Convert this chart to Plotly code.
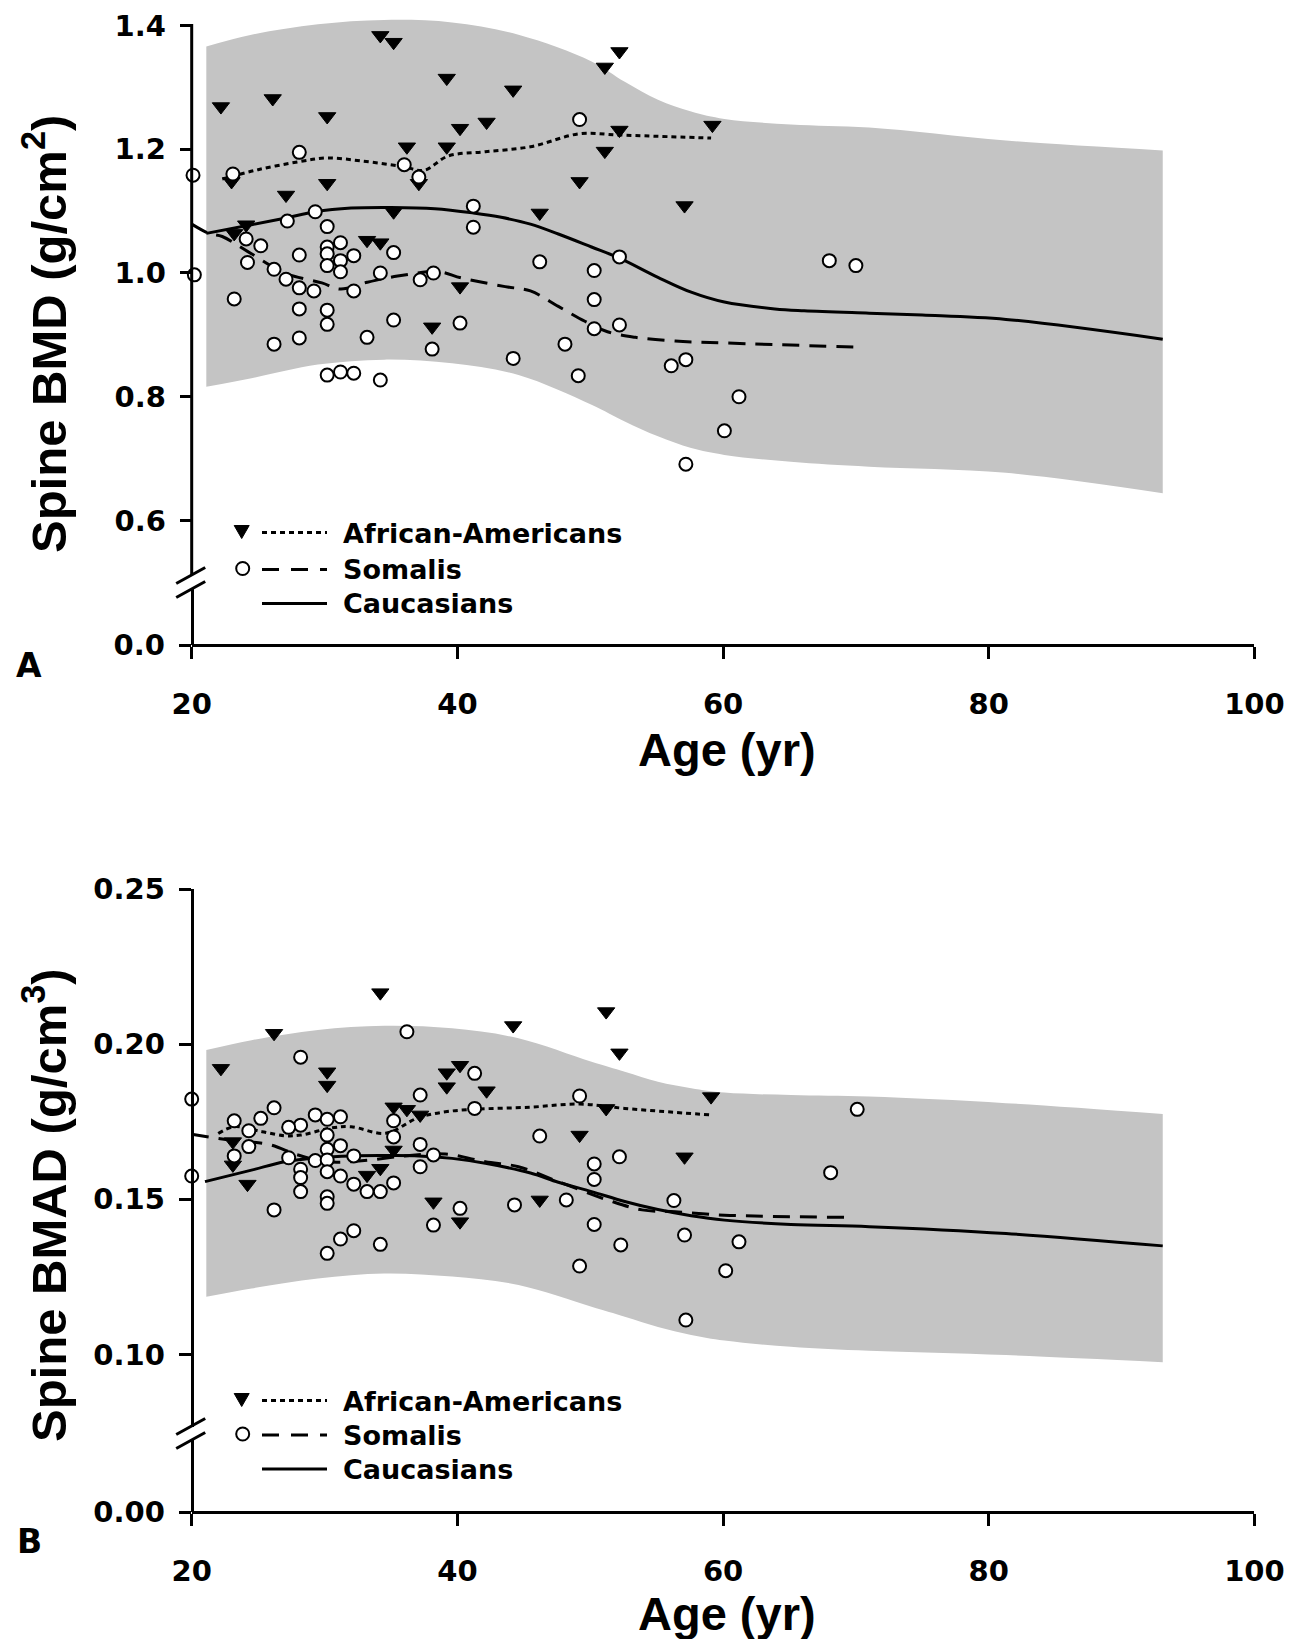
import plotly.graph_objects as go

# ---------------- Panel A : Spine BMD (g/cm2) ----------------
AA_AGE_A = [22.2, 26.1, 30.2, 34.2, 35.2, 39.2, 44.2, 40.2, 42.2, 36.2,
            39.2, 23.0, 30.2, 27.1, 37.1, 35.2, 23.2, 24.1, 33.2, 34.2,
            40.2, 38.1, 52.2, 51.1, 52.2, 59.2, 51.1, 49.2, 46.2, 57.1]
AA_BMD_A = [1.269, 1.282, 1.253, 1.384, 1.373, 1.315, 1.296, 1.234, 1.244, 1.204,
            1.204, 1.148, 1.145, 1.126, 1.145, 1.099, 1.064, 1.078, 1.053, 1.049,
            0.978, 0.913, 1.358, 1.333, 1.231, 1.239, 1.197, 1.148, 1.097, 1.109]

SO_AGE_A = [20.1, 20.2, 23.1, 28.1, 36.0, 37.1, 29.3, 27.2, 30.2, 24.1,
            25.2, 41.2, 41.2, 31.2, 30.2, 30.2, 28.1, 32.2, 31.2, 35.2,
            24.2, 30.2, 31.2, 26.2, 34.2, 37.2, 38.2, 27.1, 28.1, 29.2,
            32.2, 23.2, 28.1, 30.2, 30.2, 35.2, 40.2, 26.2, 28.1, 33.2,
            38.1, 44.2, 30.2, 31.2, 32.2, 34.2, 49.2, 46.2, 52.2, 50.3,
            50.3, 50.3, 52.2, 48.1, 49.1, 56.1, 57.2, 61.2, 60.1, 57.2,
            68.0, 70.0]
SO_BMD_A = [1.158, 0.997, 1.160, 1.195, 1.175, 1.155, 1.099, 1.084, 1.075, 1.055,
            1.044, 1.108, 1.074, 1.049, 1.042, 1.031, 1.029, 1.028, 1.020, 1.033,
            1.017, 1.012, 1.002, 1.006, 1.000, 0.989, 1.000, 0.990, 0.976, 0.971,
            0.971, 0.958, 0.942, 0.940, 0.917, 0.924, 0.919, 0.885, 0.895, 0.896,
            0.877, 0.862, 0.835, 0.840, 0.838, 0.827, 1.248, 1.018, 1.026, 1.004,
            0.957, 0.910, 0.916, 0.885, 0.834, 0.850, 0.860, 0.800, 0.745, 0.691,
            1.020, 1.012]

AA_FIT_AGE_A = [22.3, 25.0, 28.1, 30.2, 32.8, 35.9, 37.5, 39.3, 42.1, 45.5, 49.2, 52.2, 59.1]
AA_FIT_A = [1.152, 1.167, 1.180, 1.186, 1.181, 1.172, 1.166, 1.189, 1.196, 1.204, 1.225, 1.223, 1.218]

SO_FIT_AGE_A = [20.0, 21.3, 22.3, 24.2, 27.0, 29.8, 31.2, 33.2, 35.5, 38.6, 40.3,
                43.6, 45.5, 47.6, 49.6, 51.3, 53.4, 56.4, 60.1, 70.2]
SO_FIT_A = [1.079, 1.064, 1.059, 1.035, 1.000, 0.984, 0.974, 0.985, 0.995, 1.002, 0.992,
            0.978, 0.971, 0.946, 0.922, 0.905, 0.896, 0.890, 0.887, 0.880]

CA_FIT_AGE = [21.1, 24.5, 27.1, 29.3, 32.0, 35.0, 38.3, 41.2, 43.3, 45.5, 47.6,
              50.1, 52.2, 55.1, 57.6, 60.1, 63.9, 66.1, 71.0, 75.0, 81.3, 93.1]
CA_FIT_A = [1.064, 1.078, 1.089, 1.099, 1.105, 1.106, 1.104, 1.097, 1.090, 1.079, 1.063,
            1.042, 1.024, 0.993, 0.969, 0.953, 0.942, 0.939, 0.935, 0.932, 0.925, 0.893]

BAND_AGE = [21.1, 24.5, 29.5, 34.5, 39.6, 44.6, 50.1, 52.6, 55.1, 57.6, 60.1, 65.1, 71.0, 81.3, 93.1]
BAND_UP_A = [1.366, 1.385, 1.402, 1.409, 1.405, 1.385, 1.342, 1.309, 1.280, 1.261, 1.249, 1.240, 1.235, 1.214, 1.198]
BAND_LO_A = [0.816, 0.830, 0.852, 0.860, 0.854, 0.835, 0.787, 0.760, 0.736, 0.717, 0.706, 0.695, 0.687, 0.677, 0.644]

# ---------------- Panel B : Spine BMAD (g/cm3) ----------------
AA_AGE_B = [22.2, 26.2, 34.2, 30.2, 30.2, 44.2, 39.2, 40.2, 39.2, 42.2,
            35.2, 36.2, 37.2, 23.1, 23.1, 24.2, 35.2, 34.2, 33.2, 38.2,
            40.2, 51.2, 52.2, 59.1, 51.2, 49.2, 57.1, 46.2]
AA_BMAD_B = [0.1922, 0.2035, 0.2166, 0.1911, 0.1868, 0.2060, 0.1908, 0.1932, 0.1863, 0.1850,
             0.1798, 0.1790, 0.1772, 0.1686, 0.1611, 0.1549, 0.1659, 0.1600, 0.1578, 0.1492,
             0.1428, 0.2105, 0.1972, 0.1831, 0.1793, 0.1707, 0.1637, 0.1498]

SO_AGE_B = [20.0, 20.0, 36.2, 28.2, 41.3, 37.2, 41.3, 26.2, 23.2, 25.2,
            29.3, 30.2, 31.2, 28.2, 27.3, 24.3, 35.2, 35.2, 30.2, 24.3,
            23.2, 30.2, 31.2, 37.2, 38.2, 27.3, 29.3, 32.2, 30.2, 37.2,
            28.2, 30.2, 31.2, 28.2, 32.2, 28.2, 33.2, 34.2, 35.2, 30.2,
            30.2, 26.2, 40.2, 44.3, 38.2, 32.2, 31.2, 30.2, 34.2, 49.2,
            70.1, 46.2, 52.2, 50.3, 50.3, 68.1, 48.2, 56.3, 50.3, 57.1,
            61.2, 52.3, 49.2, 60.2, 57.2]
SO_BMAD_B = [0.1823, 0.1575, 0.2040, 0.1958, 0.1906, 0.1836, 0.1793, 0.1795, 0.1753, 0.1761,
             0.1772, 0.1758, 0.1766, 0.1739, 0.1732, 0.1721, 0.1753, 0.1701, 0.1707, 0.1670,
             0.1640, 0.1661, 0.1673, 0.1677, 0.1643, 0.1634, 0.1625, 0.1640, 0.1627, 0.1605,
             0.1597, 0.1589, 0.1575, 0.1570, 0.1549, 0.1525, 0.1525, 0.1525, 0.1553, 0.1508,
             0.1487, 0.1466, 0.1471, 0.1482, 0.1417, 0.1399, 0.1372, 0.1326, 0.1355, 0.1833,
             0.1790, 0.1704, 0.1637, 0.1614, 0.1564, 0.1586, 0.1498, 0.1496, 0.1419, 0.1385,
             0.1363, 0.1353, 0.1285, 0.1270, 0.1111]

AA_FIT_AGE_B = [22.0, 23.2, 25.3, 27.0, 28.2, 30.5, 32.0, 34.6, 37.1, 39.1, 41.2, 45.5, 49.2, 52.6, 59.0]
AA_FIT_B = [0.1712, 0.1734, 0.1718, 0.1705, 0.1707, 0.1730, 0.1734, 0.1713, 0.1764, 0.1782,
            0.1790, 0.1797, 0.1807, 0.1793, 0.1772]

SO_FIT_AGE_B = [20.0, 22.8, 25.8, 28.0, 30.2, 33.0, 36.0, 39.1, 42.1, 44.6, 47.6, 51.3, 53.9, 56.4, 60.1, 69.2]
SO_FIT_B = [0.1710, 0.1691, 0.1677, 0.1643, 0.1621, 0.1625, 0.1640, 0.1646, 0.1621, 0.1605,
            0.1557, 0.1498, 0.1466, 0.1460, 0.1449, 0.1442]

CA_FIT_AGE_B = [21.0, 24.5, 27.0, 29.5, 32.0, 34.5, 37.1, 39.6, 42.1, 45.5, 47.6, 50.1,
                52.6, 55.1, 57.6, 60.1, 65.1, 71.0, 81.3, 93.1]
CA_FIT_B = [0.1557, 0.1594, 0.1621, 0.1634, 0.1640, 0.1641, 0.1640, 0.1632, 0.1616, 0.1585,
            0.1555, 0.1525, 0.1493, 0.1467, 0.1447, 0.1433, 0.1419, 0.1412, 0.1390, 0.1350]

BAND_UP_B = [0.1981, 0.2013, 0.2046, 0.2059, 0.2051, 0.2019, 0.1943, 0.1911, 0.1879, 0.1858,
             0.1844, 0.1836, 0.1831, 0.1810, 0.1775]
BAND_LO_B = [0.1186, 0.1213, 0.1245, 0.1261, 0.1251, 0.1224, 0.1154, 0.1122, 0.1089, 0.1063,
             0.1045, 0.1025, 0.1012, 0.0998, 0.0975]

X_TICKS = [20, 40, 60, 80, 100]
Y_TICKS_A = [0.6, 0.8, 1.0, 1.2, 1.4]
Y_TICKS_B = [0.10, 0.15, 0.20, 0.25]

# ---------------- layout geometry (page pixels) ----------------
# the HTML body has an 8px margin, so the figure is made 16px smaller and all
# page-pixel positions are shifted by that offset.
OFF = 8
W, H = 1294 - 2 * OFF, 1647 - 2 * OFF
def PX(x): return (x - OFF) / W
def PY(y): return 1 - (y - OFF) / H

XL, XR = 191.7, 1254.4
# panel A
A_TOP, A_06 = 25.5, 520.5
A_SCALE = (A_06 - A_TOP) / 0.8
A_MAX = 1.42                      # head-room so the band can rise slightly above 1.4
A_DOM_TOP = A_TOP - (A_MAX - 1.4) * A_SCALE
A_BRK_U, A_BRK_L, A_ZERO = 575.0, 589.0, 645.0
# panel B
B_TOP, B_010 = 889.0, 1354.5
B_SCALE = (B_010 - B_TOP) / 0.15
B_BRK_U, B_BRK_L, B_ZERO = 1427.0, 1439.0, 1512.0

TICKFONT = dict(family="DejaVu Sans", size=29, color="black", weight="bold")
GRAY = "#c4c4c4"
LW = 3

fig = go.Figure()

def add_panel(xa, ya, ya_low, up, lo, band_age, aa_x, aa_y, so_x, so_y,
              aa_fx, aa_fy, so_fx, so_fy, ca_fx, ca_fy):
    # empty trace so that the lower (0-level) axis segment is rendered
    fig.add_trace(go.Scatter(x=[None], y=[None], mode="markers", xaxis=xa, yaxis=ya_low,
                             showlegend=False, hoverinfo="skip"))
    fig.add_trace(go.Scatter(x=band_age, y=lo, mode="lines", line=dict(width=0, shape="spline"),
                             xaxis=xa, yaxis=ya, showlegend=False, hoverinfo="skip"))
    fig.add_trace(go.Scatter(x=band_age, y=up, mode="lines", line=dict(width=0, shape="spline"),
                             fill="tonexty", fillcolor=GRAY,
                             xaxis=xa, yaxis=ya, showlegend=False, hoverinfo="skip"))
    fig.add_trace(go.Scatter(x=ca_fx, y=ca_fy, mode="lines",
                             line=dict(color="black", width=LW, shape="spline"),
                             xaxis=xa, yaxis=ya, showlegend=False))
    fig.add_trace(go.Scatter(x=so_fx, y=so_fy, mode="lines",
                             line=dict(color="black", width=LW, shape="spline", dash="17px,10px"),
                             xaxis=xa, yaxis=ya, showlegend=False))
    fig.add_trace(go.Scatter(x=aa_fx, y=aa_fy, mode="lines",
                             line=dict(color="black", width=LW, shape="spline", dash="5px,4px"),
                             xaxis=xa, yaxis=ya, showlegend=False))
    fig.add_trace(go.Scatter(x=aa_x, y=aa_y, mode="markers", cliponaxis=False,
                             marker=dict(symbol="triangle-down", size=15, color="black",
                                         line=dict(color="black", width=1)),
                             xaxis=xa, yaxis=ya, showlegend=False))
    fig.add_trace(go.Scatter(x=so_x, y=so_y, mode="markers", cliponaxis=False,
                             marker=dict(symbol="circle", size=13, color="white",
                                         line=dict(color="black", width=2)),
                             xaxis=xa, yaxis=ya, showlegend=False))

add_panel("x", "y", "y2", BAND_UP_A, BAND_LO_A, BAND_AGE, AA_AGE_A, AA_BMD_A, SO_AGE_A, SO_BMD_A,
          AA_FIT_AGE_A, AA_FIT_A, SO_FIT_AGE_A, SO_FIT_A, CA_FIT_AGE, CA_FIT_A)
add_panel("x2", "y3", "y4", BAND_UP_B, BAND_LO_B, BAND_AGE, AA_AGE_B, AA_BMAD_B, SO_AGE_B, SO_BMAD_B,
          AA_FIT_AGE_B, AA_FIT_B, SO_FIT_AGE_B, SO_FIT_B, CA_FIT_AGE_B, CA_FIT_B)

axis_common = dict(showline=True, linewidth=LW, linecolor="black", ticks="outside",
                   ticklen=12, tickwidth=LW, tickcolor="black", showgrid=False,
                   zeroline=False, tickfont=TICKFONT, automargin=False)

xa_common = dict(axis_common, domain=[PX(XL), PX(XR)], range=[20, 100], tickvals=X_TICKS,
                 anchor="free", ticklabelstandoff=20)

fig.update_layout(
    template="none",
    width=W, height=H, margin=dict(l=0, r=0, t=0, b=0, pad=0, autoexpand=False),
    paper_bgcolor="white", plot_bgcolor="rgba(0,0,0,0)", showlegend=False,
    xaxis=dict(xa_common, position=PY(A_ZERO)),
    xaxis2=dict(xa_common, position=PY(B_ZERO)),
    yaxis=dict(axis_common, domain=[PY(A_BRK_U), PY(A_DOM_TOP)], showline=False,
               range=[1.4 - (A_BRK_U - A_TOP) / A_SCALE, A_MAX],
               tickvals=Y_TICKS_A, ticktext=[f"{v:.1f}" for v in Y_TICKS_A],
               anchor="free", position=PX(XL), ticklabelstandoff=8),
    yaxis2=dict(axis_common, domain=[PY(A_ZERO), PY(A_BRK_L)],
                range=[0, (A_ZERO - A_BRK_L) / A_SCALE],
                tickvals=[0], ticktext=["0.0"], anchor="free", position=PX(XL),
                ticklabelstandoff=8),
    yaxis3=dict(axis_common, domain=[PY(B_BRK_U), PY(B_TOP)],
                range=[0.25 - (B_BRK_U - B_TOP) / B_SCALE, 0.25],
                tickvals=Y_TICKS_B, ticktext=[f"{v:.2f}" for v in Y_TICKS_B],
                anchor="free", position=PX(XL), ticklabelstandoff=8),
    yaxis4=dict(axis_common, domain=[PY(B_ZERO), PY(B_BRK_L)],
                range=[0, (B_ZERO - B_BRK_L) / B_SCALE],
                tickvals=[0], ticktext=["0.00"], anchor="free", position=PX(XL),
                ticklabelstandoff=8),
)

shapes = []
# upper axis line of panel A (ends at the 1.4 tick)
shapes.append(dict(type="line", xref="paper", yref="paper", x0=PX(XL), x1=PX(XL),
                   y0=PY(A_BRK_U), y1=PY(A_TOP - 1.5), line=dict(color="black", width=LW)))
# axis break marks
def brk(yc):
    for dy in (-7, 7):
        shapes.append(dict(type="line", xref="paper", yref="paper",
                           x0=PX(XL - 15.5), y0=PY(yc + dy + 8.5),
                           x1=PX(XL + 13.5), y1=PY(yc + dy - 7.5),
                           line=dict(color="black", width=LW)))
brk((A_BRK_U + A_BRK_L) / 2)
brk((B_BRK_U + B_BRK_L) / 2)

annotations = []
LEG_FONT = dict(family="DejaVu Sans", size=27, color="black", weight="bold")

def legend(y1, y2, y3):
    cx, cy, hw, hh = 241.7, y1 - 1.5, 7.5, 6.5
    shapes.append(dict(type="path", xref="paper", yref="paper",
                       path=f"M {PX(cx-hw)},{PY(cy-hh)} L {PX(cx+hw)},{PY(cy-hh)} L {PX(cx)},{PY(cy+hh)} Z",
                       fillcolor="black", line=dict(color="black", width=1)))
    shapes.append(dict(type="line", xref="paper", yref="paper", x0=PX(262), x1=PX(327),
                       y0=PY(y1 - 1), y1=PY(y1 - 1),
                       line=dict(color="black", width=LW, dash="5px,4px")))
    r = 6.5
    shapes.append(dict(type="circle", xref="paper", yref="paper",
                       x0=PX(242.7 - r), x1=PX(242.7 + r), y0=PY(y2 - 1 + r), y1=PY(y2 - 1 - r),
                       fillcolor="white", line=dict(color="black", width=2)))
    shapes.append(dict(type="line", xref="paper", yref="paper", x0=PX(262), x1=PX(327),
                       y0=PY(y2), y1=PY(y2),
                       line=dict(color="black", width=LW, dash="17px,12px")))
    shapes.append(dict(type="line", xref="paper", yref="paper", x0=PX(262), x1=PX(327),
                       y0=PY(y3), y1=PY(y3), line=dict(color="black", width=LW)))
    for txt, yy in (("African-Americans", y1), ("Somalis", y2), ("Caucasians", y3)):
        annotations.append(dict(text=txt, xref="paper", yref="paper", x=PX(341), y=PY(yy),
                                xanchor="left", yanchor="middle", showarrow=False, font=LEG_FONT))

legend(533.5, 569.5, 603.5)
legend(1401.5, 1435.0, 1469.0)

TITLE_FONT = dict(family="Liberation Sans", size=49, color="black", weight="bold")
XT_FONT = dict(family="Liberation Sans", size=47, color="black", weight="bold")
PANEL_FONT = dict(family="DejaVu Sans", size=33, color="black", weight="bold")
annotations += [
    dict(text="Spine BMD (g/cm<sup>2</sup>)", xref="paper", yref="paper", x=PX(45), y=PY(334),
         textangle=-90, showarrow=False, font=TITLE_FONT, xanchor="center", yanchor="middle"),
    dict(text="Spine BMAD (g/cm<sup>3</sup>)", xref="paper", yref="paper", x=PX(45), y=PY(1205),
         textangle=-90, showarrow=False, font=TITLE_FONT, xanchor="center", yanchor="middle"),
    dict(text="Age (yr)", xref="paper", yref="paper", x=PX(727), y=PY(749),
         showarrow=False, font=XT_FONT, xanchor="center", yanchor="middle"),
    dict(text="Age (yr)", xref="paper", yref="paper", x=PX(727), y=PY(1613),
         showarrow=False, font=XT_FONT, xanchor="center", yanchor="middle"),
    dict(text="A", xref="paper", yref="paper", x=PX(29), y=PY(666), showarrow=False,
         font=PANEL_FONT, xanchor="center", yanchor="middle"),
    dict(text="B", xref="paper", yref="paper", x=PX(29), y=PY(1541), showarrow=False,
         font=PANEL_FONT, xanchor="center", yanchor="middle"),
]

fig.update_layout(shapes=shapes, annotations=annotations)
fig.write_html("out.html")
